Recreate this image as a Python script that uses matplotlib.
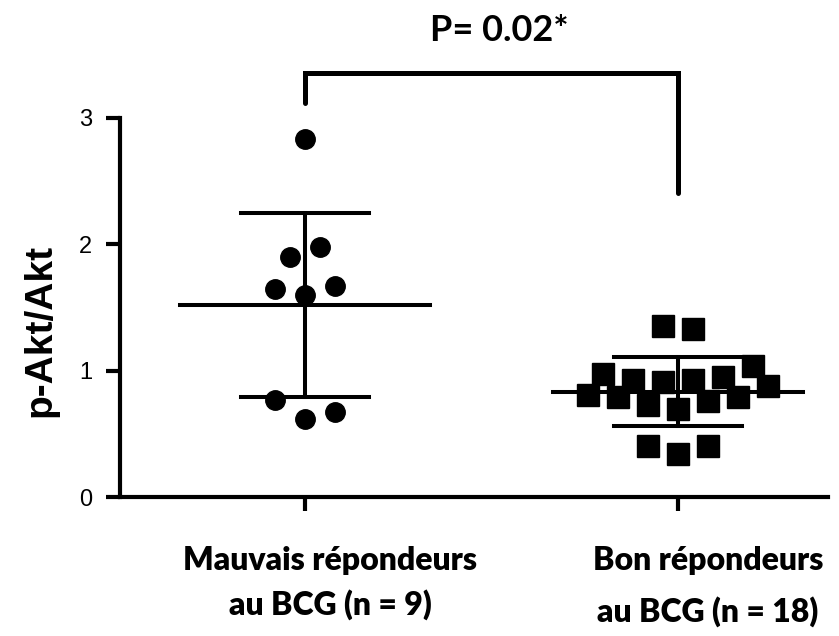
import numpy as np
import matplotlib
matplotlib.use("Agg")
import matplotlib.pyplot as plt

# p-Akt/Akt ratios per patient
mauvais = [2.83, 1.90, 1.98, 1.65, 1.60, 1.67, 0.77, 0.62, 0.67]
mauvais_col = [0, -0.5, 0.5, -1, 0, 1, -1, 0, 1]

bons = [1.35, 1.33, 0.97, 0.93, 0.91, 0.93, 0.95, 1.04, 0.88,
        0.81, 0.79, 0.73, 0.70, 0.76, 0.79, 0.40, 0.34, 0.40]
bons_col = [-0.5, 0.5, -2.5, -1.5, -0.5, 0.5, 1.5, 2.5, 3,
            -3, -2, -1, 0, 1, 2, -1, 0, 1]

group_lines = [("Mauvais répondeurs", "au BCG (n = 9)"),
               ("Bon répondeurs", "au BCG (n = 18)")]
p_text = "P= 0.02*"
yticks = [0, 1, 2, 3]

fig = plt.figure(figsize=(8.39, 6.36), dpi=100)
ax = fig.add_axes([120 / 839, 139 / 636, 708 / 839, 379 / 636])

col_w = 0.0804
lw = 2.9

for i, (vals, cols, mk, ms) in enumerate([(mauvais, mauvais_col, 'o', 14),
                                           (bons, bons_col, 's', 15.5)]):
    vals = np.array(vals)
    xs = i + np.array(cols) * col_w
    ax.plot(xs, vals, linestyle='none', marker=mk, markersize=ms,
            color='black', zorder=3, clip_on=False)
    m = vals.mean()
    sd = vals.std(ddof=1)
    ax.plot([i - 0.335, i + 0.335], [m, m], color='black', lw=lw, zorder=2)
    ax.plot([i, i], [m - sd, m + sd], color='black', lw=lw, zorder=2)
    for y in (m - sd, m + sd):
        ax.plot([i - 0.172, i + 0.172], [y, y], color='black', lw=lw, zorder=2)

# significance bracket
ax.plot([0, 0, 1, 1], [3.12, 3.36, 3.36, 2.41], color='black', lw=3.6,
        clip_on=False, solid_joinstyle='miter', solid_capstyle='round')
fig.text(499 / 839, 1 - 41 / 636, p_text, ha='center', va='baseline',
         fontsize=26, fontweight='bold', family='Lato')

ax.set_xlim(-0.496, 1.402)
ax.set_ylim(0, 3)
ax.set_yticks(yticks)
ax.set_yticklabels([str(t) for t in yticks], fontsize=17, family='Liberation Sans')
ax.set_xticks([0, 1])
ax.set_xticklabels([])

# group labels, set a little right of their ticks
xt = ax.get_xaxis_transform()
label_dx = [0.067, 0.08]
line_y = [(-0.1926, -0.311), (-0.1926, -0.33)]
for i, (l1, l2) in enumerate(group_lines):
    for txt, y in zip((l1, l2), line_y[i]):
        ax.text(i + label_dx[i], y, txt, transform=xt, ha='center',
                va='baseline', fontsize=23, fontweight='heavy', family='Lato')

ax.text(-0.113, 0.44, "p-Akt/Akt", transform=ax.transAxes, rotation=90,
        ha='center', va='center', fontsize=28, fontweight='bold',
        family='Liberation Sans')

for s in ['top', 'right']:
    ax.spines[s].set_visible(False)
for s in ['left', 'bottom']:
    ax.spines[s].set_linewidth(3)
ax.tick_params(axis='both', width=3, length=10, direction='out')
ax.tick_params(axis='y', pad=10)

fig.savefig("out.png", dpi=100)
